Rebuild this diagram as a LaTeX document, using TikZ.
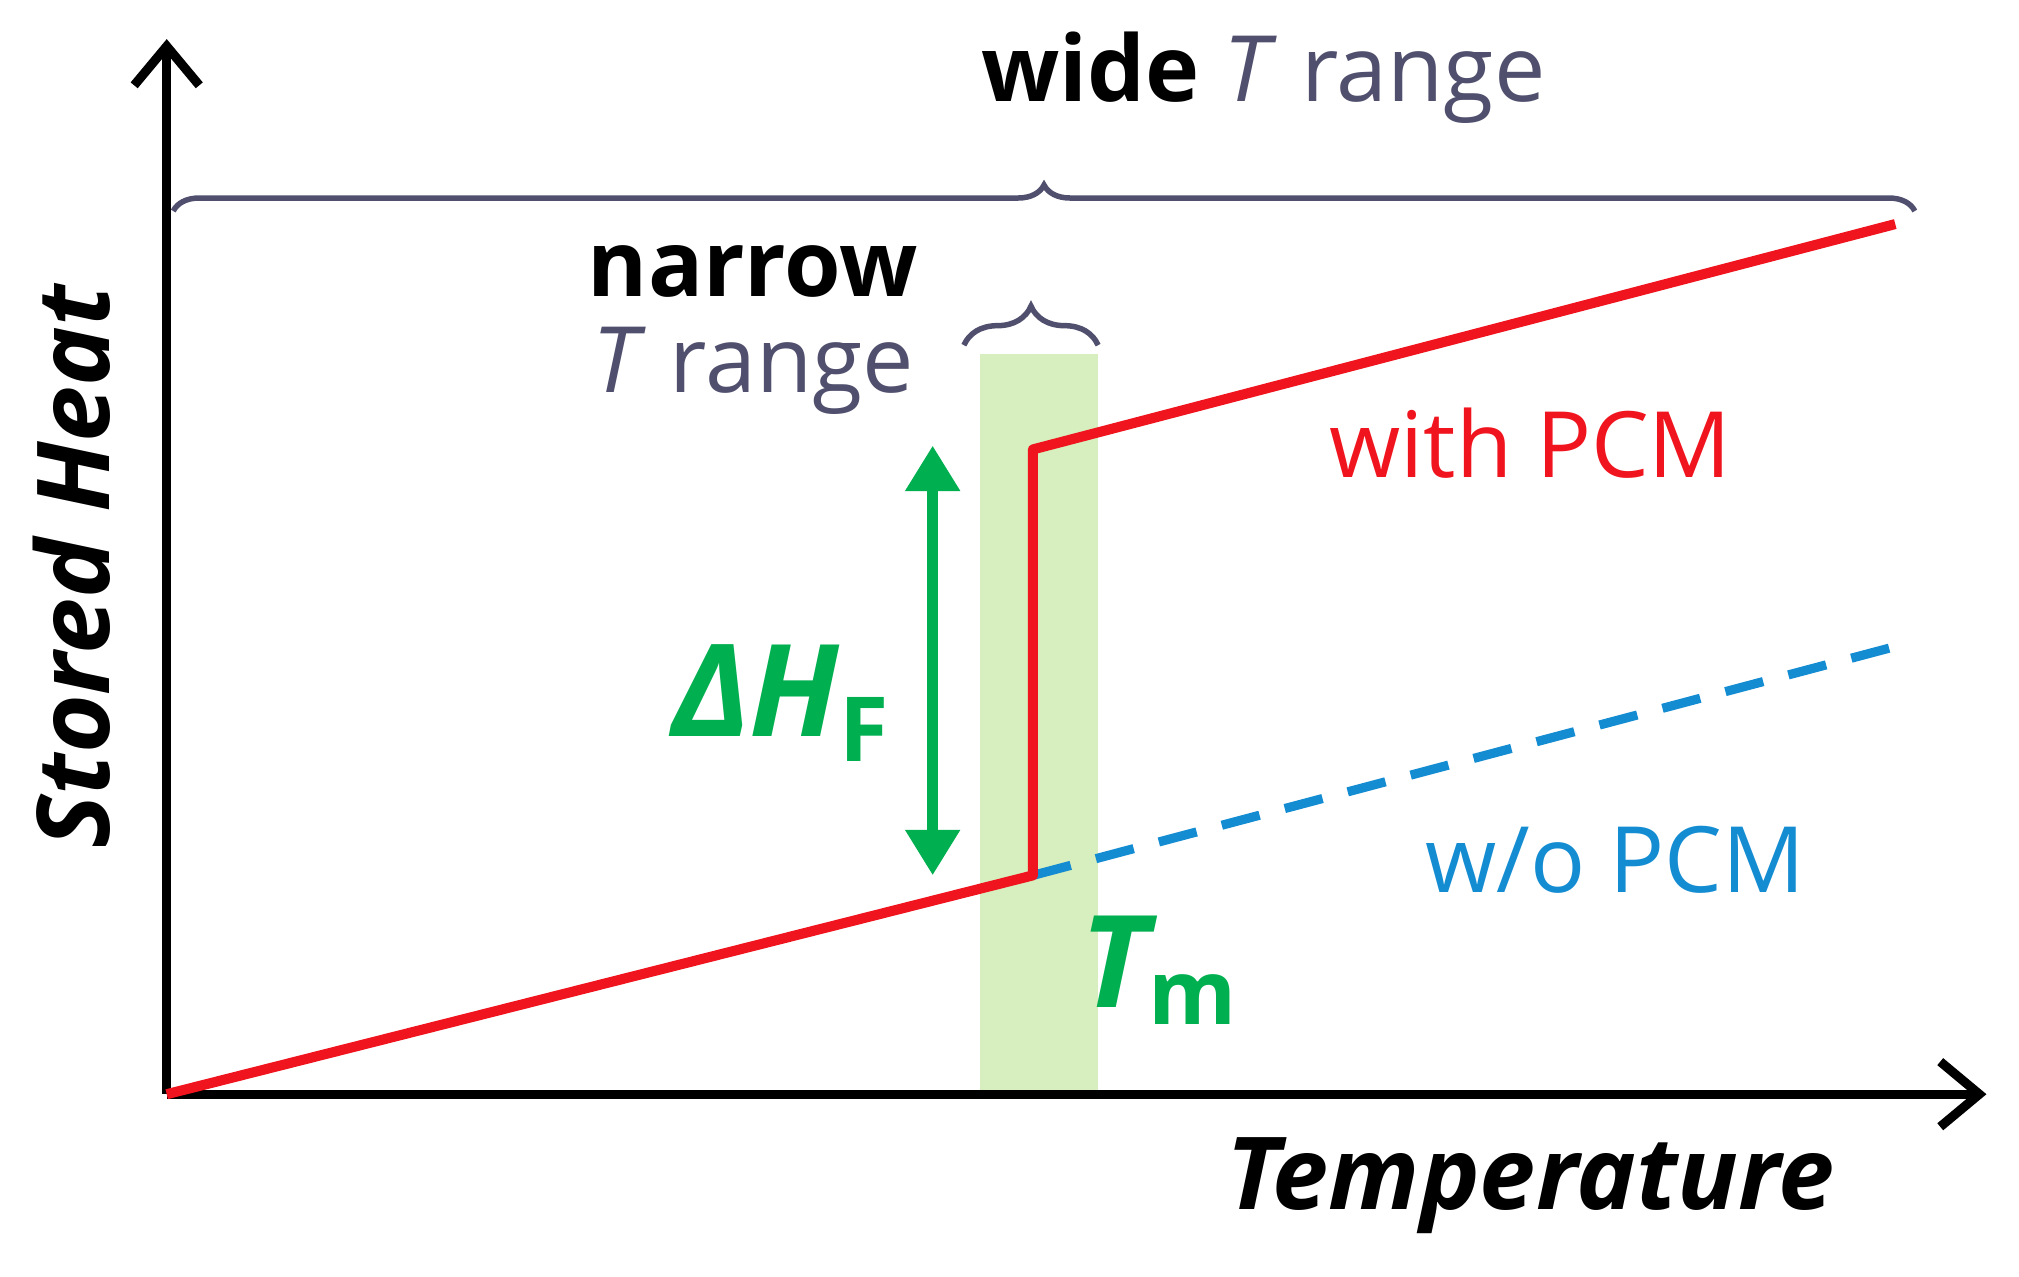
\documentclass[tikz,border=0pt]{standalone}
\usepackage{fontspec}
\setmainfont{Open Sans}
\usetikzlibrary{arrows.meta}
\usetikzlibrary{decorations.pathreplacing}
\definecolor{pcmred}{RGB}{240,20,30}
\definecolor{pcmblue}{RGB}{20,140,210}
\definecolor{pcmgreen}{RGB}{0,175,80}
\definecolor{bandgreen}{RGB}{215,238,190}
\definecolor{bracegray}{RGB}{80,80,110}
\tikzset{
	big/.style={font=\fontsize{20}{24}\selectfont},
	bold label/.style={font=\fontsize{#1}{#1}\selectfont\bfseries\itshape},
	brace/.style={decorate, decoration={brace, amplitude=#1}, bracegray, line width=1.2pt}
}
\begin{document}
\begin{tikzpicture}[y=-1cm]
		\useasboundingbox (0,0) rectangle (15.5,9.8);
		\fill[bandgreen] (7.52,2.72) rectangle (8.43,8.38);
		\draw[line width=2pt, -{Straight Barb[length=3mm, width=5mm]}] (1.28,8.4) -- (1.28,0.3);
		\draw[line width=2pt, -{Straight Barb[length=3mm, width=5mm]}] (1.28,8.4) -- (15.25,8.4);
		\draw[pcmblue, dash pattern=on 0.3cm off 0.2cm, line width=2pt] (7.93,6.72) -- (14.6,4.95);
		\draw[pcmred, line width=2.2pt, line join=round] (1.28,8.4) -- (7.93,6.72) -- (7.93,3.45) -- (14.55,1.72);
		\draw[pcmgreen, line width=2.5pt, {Triangle[length=3.5mm, width=4mm]}-{Triangle[length=3.5mm, width=4mm]}] (7.16,3.42) -- (7.16,6.72);
		\draw[brace=0.2cm] (1.33,1.62) -- (14.7,1.62);
		\draw[brace=0.3cm] (7.4,2.65) -- (8.43,2.65);
		% labels
		\node[big] (wide) at (9.7,0.6) {\textbf{wide} \textcolor{bracegray}{\textit{T} range}};
		\node[big] (narrow) at (5.78,2.08) {\textbf{narrow}};
		\node[big, bracegray] (trange) at (5.78,2.85) {\textit{T} range};
		\node[pcmgreen, bold label=28] (dh) at (6.0,5.4) {ΔH\textsubscript{\upshape F}};
		\node[pcmgreen, bold label=28] (tm) at (8.9,7.45) {T\textsubscript{\upshape m}};
		\node[big, pcmred] (with) at (11.75,3.4) {with PCM};
		\node[big, pcmblue] (without) at (12.4,6.6) {w/o PCM};
		\node[rotate=90, bold label=22] (yl) at (0.55,4.35) {Stored Heat};
		\node[bold label=22] (xl) at (11.75,9.1) {Temperature};
	\end{tikzpicture}
\end{document}
